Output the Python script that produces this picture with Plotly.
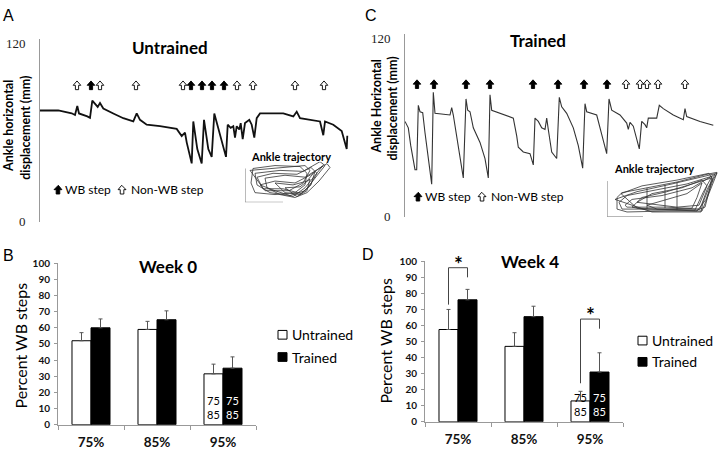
import plotly.graph_objects as go

# ---------------- data ----------------
# Panel A (untrained) ankle horizontal displacement trace
t_untrained = [0, 18.3, 31.7, 35, 37.3, 39, 47.3, 50, 52.3, 55, 57.7, 60, 63.3, 73.3, 83.3, 93.3, 96.7, 100, 106.7, 120,
               136.7, 141.7, 145, 146.7, 151.7, 153.3, 157.3, 161.7, 164, 168.3, 171.7, 174.3, 180, 186, 187.7, 190.7,
               193.3, 195, 196.7, 199.3, 200.7, 202.7, 205, 209.3, 211.7, 214.3, 216.7, 220, 243.3, 253.3, 256.7, 260,
               280, 283.3, 285, 293.3, 301.7, 306.7, 307.3]
y_untrained = [75, 75, 73.1, 72, 78, 73, 71, 70, 81.7, 79.6, 77.4, 80, 76.3, 73, 69.8, 67.6, 73, 68.7, 65.4, 64.4,
               62.6, 57.8, 60, 53.5, 39.3, 67.6, 49, 39.3, 68.7, 49, 43.7, 73, 57.8, 43.7, 65.4, 63.3, 64.4, 56.7, 64.4,
               62.2, 66.5, 55.6, 66.5, 68.7, 65.4, 56.7, 69.8, 73, 73, 71, 74.2, 69.8, 67.6, 58.3, 67.6, 65.4, 61.1, 49, 58]
# Panel C (trained)
t_trained = [0, 3.3, 5.7, 10, 11.7, 13.3, 15, 17.7, 20, 23.3, 26.7, 28.3, 30, 45, 46.7, 48.3, 50, 53.3, 58.3, 61,
             62.7, 65, 68.3, 75, 80, 83.3, 85, 86.7, 95, 108.3, 111.7, 113.3, 118.3, 125, 128.3, 130, 133.3, 136.7,
             140, 141.7, 143.3, 146.7, 151.7, 154.3, 156.7, 161.7, 168.3, 173.3, 177.7, 180, 181.7, 191.7, 196.7,
             201.7, 204, 206.7, 215, 221.7, 223.3, 225, 228.3, 234.3, 236.7, 240, 241.7, 243.3, 251.7, 254.3, 258.3,
             268.3, 278.3, 280, 281.7, 295, 308.3]
y_trained = [64, 59.7, 47.9, 31.6, 31.6, 74.8, 70.5, 69.9, 56.4, 39.1, 21.9, 83.5, 69.4, 68.3, 73.3, 68.3, 60.8, 46.7,
             26.1, 79.1, 71.5, 70.5, 59.7, 49.9, 39.1, 26.1, 81.9, 71.5, 69.4, 66.2, 54.3, 46.7, 43.5, 42.4, 34.8, 66.2,
             64, 59.7, 58.6, 66.2, 58.6, 43.5, 39.1, 80.2, 73.8, 69.4, 59.7, 47.8, 32.6, 75.9, 70.5, 68.3, 55.3, 42.4,
             79.1, 71.5, 68.3, 62.9, 58.6, 63.4, 60.8, 45.6, 64, 61.8, 59.7, 66.2, 66.2, 74.8, 72.6, 68.3, 65.1, 72.6,
             67.3, 64, 61.4]

# step markers (time positions)
wb_steps_untrained = [51, 151, 162, 172, 184]
nonwb_steps_untrained = [37, 60, 96, 143, 197, 213, 255, 284]
wb_steps_trained = [12, 29, 61, 85, 128, 153, 179, 202]
nonwb_steps_trained = [221, 235, 242, 253, 280]
marker_level_untrained = 92
marker_level_trained = 89

# ankle trajectory insets (loops, None separates loops)
traj_untrained_x = [8, 30, 55, 62, 60, 50, 30, 10, 6, 8, None,
                    10, 35, 58, 68, 75, 80, 70, 60, 45, 25, 12, 10, None,
                    20, 40, 60, 72, 82, 85, 74, 62, 50, 35, 22, 20, None,
                    15, 30, 50, 65, 78, 72, 60, 48, 30, 15, None,
                    30, 48, 62, 70, 66, 55, 40, 30, None,
                    40, 55, 65, 62, 52, 40, None,
                    5, 40, 60, 65, 58, 44, 20, 5, None,
                    12, 28, 52, 66, 72, 64, 56, 38, 18, 12]
traj_untrained_y = [35, 38, 37, 30, 18, 10, 8, 10, 20, 35, None,
                    30, 33, 32, 38, 42, 38, 25, 12, 7, 10, 18, 30, None,
                    25, 28, 26, 34, 40, 36, 22, 10, 5, 8, 15, 25, None,
                    18, 22, 20, 28, 38, 30, 15, 6, 12, 18, None,
                    20, 18, 22, 32, 18, 8, 10, 20, None,
                    15, 16, 24, 12, 6, 15, None,
                    33, 36, 38, 33, 20, 12, 12, 33, None,
                    26, 30, 29, 36, 30, 16, 9, 14, 14, 26]
traj_trained_x = [10, 15, 40, 70, 100, 110, 108, 100, 95, 60, 20, 10, 10, None,
                  12, 20, 50, 80, 105, 103, 98, 90, 50, 15, 12, None,
                  18, 25, 55, 85, 108, 100, 93, 60, 20, 18, None,
                  25, 35, 60, 90, 104, 96, 88, 40, 25, None,
                  30, 45, 75, 95, 100, 92, 70, 30, None,
                  40, 60, 80, 95, 90, 85, 50, 40, None,
                  8, 30, 65, 98, 110, 104, 96, 94, 45, 8, None,
                  14, 35, 70, 102, 106, 99, 90, 30, 14, None,
                  40, 40, None, 70, 70, None, 58, 58]
traj_trained_y = [20, 25, 30, 36, 44, 46, 40, 20, 6, 6, 5, 8, 20, None,
                  15, 22, 28, 34, 42, 30, 10, 7, 8, 8, 15, None,
                  12, 18, 22, 30, 44, 28, 8, 10, 10, 12, None,
                  10, 20, 26, 36, 40, 25, 7, 7, 10, None,
                  15, 24, 30, 38, 32, 12, 10, 15, None,
                  12, 18, 24, 35, 20, 9, 8, 12, None,
                  18, 26, 34, 42, 45, 35, 15, 5, 5, 18, None,
                  24, 32, 38, 45, 38, 18, 6, 9, 24, None,
                  8, 30, None, 7, 36, None, 9, 33]

# bar panels
speeds = ["75%", "85%", "95%"]
week0_untrained = [52, 59, 31.5]
week0_untrained_err = [5, 5, 6]
week0_trained = [60, 65, 35]
week0_trained_err = [5.5, 5.5, 7]
week4_untrained = [57.5, 47, 13]
week4_untrained_err = [12.5, 8.5, 6]
week4_trained = [76, 65.5, 31]
week4_trained_err = [6.5, 6.5, 12]
# significance brackets (category index, left start, top, right end)
sig_index = [0, 2]
sig_left = [73, 24]
sig_top = [96, 64]
sig_right = [90, 58]

# ---------------- helpers ----------------
W, H = 720, 453
def px(x):
    return x / W
def py(y):
    return 1 - y / H

FONT = "Lato"
fig = go.Figure()
shapes = []
ann = []

# main traces
fig.add_trace(go.Scatter(x=t_untrained, y=y_untrained, mode="lines", line=dict(color="#111", width=1.8),
                         xaxis="x", yaxis="y", showlegend=False, hoverinfo="skip"))
fig.add_trace(go.Scatter(x=t_trained, y=y_trained, mode="lines", line=dict(color="#333", width=1.1),
                         xaxis="x2", yaxis="y2", showlegend=False, hoverinfo="skip"))


def arrow_path(cx, cy, sx, sy):
    """block up-arrow centred at (cx, cy); sx, sy = units per pixel"""
    hw, sw, hh, th = 3.8, 1.6, 4.5, 9.0
    pts = [(0, th / 2), (hw, th / 2 - hh), (sw, th / 2 - hh), (sw, -th / 2), (-sw, -th / 2),
           (-sw, th / 2 - hh), (-hw, th / 2 - hh)]
    return "M " + " L ".join(f"{cx + dx * sx:.3f} {cy + dy * sy:.3f}" for dx, dy in pts) + " Z"


def add_arrows(ts, level, filled, axx, axy, ypx):
    for t in ts:
        shapes.append(dict(type="path", xref=axx, yref=axy, path=arrow_path(t, level, 1.0, 1.0 / ypx),
                           fillcolor="#000" if filled else "#fff", line=dict(color="#000", width=0.9)))


add_arrows(wb_steps_untrained, marker_level_untrained, True, "x", "y", 184 / 120)
add_arrows(nonwb_steps_untrained, marker_level_untrained, False, "x", "y", 184 / 120)
add_arrows(wb_steps_trained, marker_level_trained, True, "x2", "y2", 185 / 120)
add_arrows(nonwb_steps_trained, marker_level_trained, False, "x2", "y2", 185 / 120)

# insets
fig.add_trace(go.Scatter(x=traj_untrained_x, y=traj_untrained_y, mode="lines", line=dict(color="#333", width=0.8),
                         xaxis="x5", yaxis="y5", showlegend=False, hoverinfo="skip"))
fig.add_trace(go.Scatter(x=traj_trained_x, y=traj_trained_y, mode="lines", line=dict(color="#333", width=0.8),
                         xaxis="x6", yaxis="y6", showlegend=False, hoverinfo="skip"))

# bars
bar_line = dict(color="#000", width=1)
err_style = dict(type="data", symmetric=False, color="#555", thickness=1, width=2)
for (u, ue, tr, te, ax, ay) in [(week0_untrained, week0_untrained_err, week0_trained, week0_trained_err, "x3", "y3"),
                                 (week4_untrained, week4_untrained_err, week4_trained, week4_trained_err, "x4", "y4")]:
    fig.add_trace(go.Bar(x=speeds, y=u, marker=dict(color="white", line=bar_line),
                         error_y=dict(array=ue, arrayminus=[0] * 3, **err_style),
                         xaxis=ax, yaxis=ay, showlegend=False, hoverinfo="skip"))
    fig.add_trace(go.Bar(x=speeds, y=tr, marker=dict(color="black", line=bar_line),
                         error_y=dict(array=te, arrayminus=[0] * 3, **err_style),
                         xaxis=ax, yaxis=ay, showlegend=False, hoverinfo="skip"))

# ---------------- axes ----------------
axis_gray = "#999"
layout = dict(
    width=W, height=H, margin=dict(l=0, r=0, t=0, b=0), paper_bgcolor="white", plot_bgcolor="white",
    barmode="group", bargap=0.424, bargroupgap=0, showlegend=False,
)
main_y = dict(showline=True, linecolor=axis_gray, linewidth=1, showgrid=False, zeroline=False, ticks="",
              tickvals=[0, 120], tickfont=dict(family="Liberation Serif", size=13, color="#222"),
              ticklabelstandoff=11)
layout["xaxis"] = dict(domain=[px(40), px(350)], range=[0, 310], visible=False, anchor="y")
layout["yaxis"] = dict(domain=[py(222), py(33)], range=[0, 123.3], anchor="x", **main_y)
layout["xaxis2"] = dict(domain=[px(405), px(715)], range=[0, 310], visible=False, anchor="y2")
layout["yaxis2"] = dict(domain=[py(217), py(28)], range=[0, 122.6], anchor="x2", **main_y)
layout["xaxis5"] = dict(domain=[px(245), px(335)], range=[0, 90], visible=False, anchor="y5")
layout["yaxis5"] = dict(domain=[py(202), py(160)], range=[0, 42], visible=False, anchor="x5")
layout["xaxis6"] = dict(domain=[px(607), px(720)], range=[0, 113], visible=False, anchor="y6")
layout["yaxis6"] = dict(domain=[py(217), py(170)], range=[0, 47], visible=False, anchor="x6")

bar_x = dict(showline=True, linecolor=axis_gray, linewidth=1, ticks="outside", tickson="boundaries", ticklen=4,
             tickcolor=axis_gray, showgrid=False,
             tickfont=dict(family=FONT, size=13.5, color="#111", weight="bold"), ticklabelstandoff=5)
bar_y = dict(showline=True, linecolor=axis_gray, linewidth=1, ticks="outside", ticklen=3, tickcolor=axis_gray,
             showgrid=False, zeroline=False, range=[0, 100], dtick=10,
             tickfont=dict(family=FONT, size=10, color="#111", weight="bold"), ticklabelstandoff=2)
layout["xaxis3"] = dict(domain=[px(58), px(256)], anchor="y3", **bar_x)
layout["yaxis3"] = dict(domain=[py(432), py(265)], anchor="x3", **bar_y)
layout["xaxis4"] = dict(domain=[px(425), px(623)], anchor="y4", **bar_x)
layout["yaxis4"] = dict(domain=[py(429), py(263)], anchor="x4", **bar_y)

# ---------------- shapes ----------------
for ax, ay, vlen, hlen in [("x5", "y5", 35, 38), ("x6", "y6", 37, 36)]:
    shapes.append(dict(type="path", xref=ax, yref=ay, path=f"M 0 {vlen} L 0 0 L {hlen} 0",
                       line=dict(color="#777", width=1)))
half = 0.144
for i, lo, top, ro in zip(sig_index, sig_left, sig_top, sig_right):
    shapes.append(dict(type="path", xref="x4", yref="y4",
                       path=f"M {i - half} {lo} L {i - half} {top} L {i + half} {top} L {i + half} {ro}",
                       line=dict(color="#444", width=1)))
    ann.append(dict(x=i, y=top, xref="x4", yref="y4", text="<b>*</b>", showarrow=False, yanchor="bottom",
                    yshift=-10, font=dict(family=FONT, size=21, color="#000")))

# legend arrows (paper coordinates)
def paper_arrow(x, y, filled):
    shapes.append(dict(type="path", xref="paper", yref="paper",
                       path=arrow_path(px(x), py(y), 1.0 / W, 1.0 / H),
                       fillcolor="#000" if filled else "#fff", line=dict(color="#000", width=0.9)))

paper_arrow(58, 189, True)
paper_arrow(122, 189, False)
paper_arrow(418, 196, True)
paper_arrow(482, 196, False)

# legend squares for bar panels
def paper_square(x, y, filled):
    shapes.append(dict(type="rect", xref="paper", yref="paper", x0=px(x), x1=px(x + 9), y0=py(y + 4.5),
                       y1=py(y - 4.5), fillcolor="#000" if filled else "#fff", line=dict(color="#000", width=1)))

paper_square(278, 339, False)
paper_square(278, 362, True)
paper_square(638, 345, False)
paper_square(638, 367, True)
layout["shapes"] = shapes

# ---------------- annotations ----------------
def a(x, y, text, size, bold=False, angle=0, family=FONT, color="#000", xanchor="center", yanchor="middle"):
    ann.append(dict(x=px(x), y=py(y), xref="paper", yref="paper", text=f"<b>{text}</b>" if bold else text,
                    showarrow=False, textangle=angle, xanchor=xanchor, yanchor=yanchor,
                    font=dict(family=family, size=size, color=color)))

# panel letters
a(8, 9, "A", 16, family="Liberation Sans")
a(371, 9, "C", 16, family="Liberation Sans")
a(8, 257, "B", 16, family="Liberation Sans")
a(368, 256, "D", 16, family="Liberation Sans")
# titles
a(170, 42, "Untrained", 17, bold=True)
a(538, 35, "Trained", 17, bold=True)
a(168, 268, "Week 0", 17, bold=True)
a(530, 263, "Week 4", 17, bold=True)
# y titles
a(9, 123, "Ankle horizontal", 12.5, bold=True, angle=-90)
a(26, 125, "displacement (mm)", 12.5, bold=True, angle=-90)
a(377, 103, "Ankle Horizontal", 12.5, bold=True, angle=-90)
a(393, 105, "displacement (mm)", 12.5, bold=True, angle=-90)
a(20, 350, "Percent WB steps", 16, angle=-90)
a(386, 345, "Percent WB steps", 16, angle=-90)
# step legends
a(63, 189, "WB step", 12, xanchor="left")
a(129, 189, "Non-WB step", 12, xanchor="left")
a(423, 196, "WB step", 12, xanchor="left")
a(489, 196, "Non-WB step", 12, xanchor="left")
# inset titles
a(291, 155, "Ankle trajectory", 11, bold=True)
a(654, 167, "Ankle trajectory", 11, bold=True)
# bar legends
a(290, 339, "Untrained", 14, xanchor="left")
a(290, 362, "Trained", 14, xanchor="left")
a(650, 345, "Untrained", 14, xanchor="left")
a(650, 367, "Trained", 14, xanchor="left")
# in-bar labels (95%)
for ax, ay in [("x3", "y3"), ("x4", "y4")]:
    for shift, col in [(-9.5, "#000"), (9.5, "#fff")]:
        ann.append(dict(x="95%", y=0, xref=ax, yref=ay, text="75<br>85", showarrow=False, xshift=shift,
                        yanchor="bottom", yshift=2, align="center",
                        font=dict(family=FONT, size=11, color=col)))
layout["annotations"] = ann

fig.update_layout(**layout)
fig.write_html("out.html", config={"displayModeBar": False},
               post_script="document.body.style.margin='0px';")
